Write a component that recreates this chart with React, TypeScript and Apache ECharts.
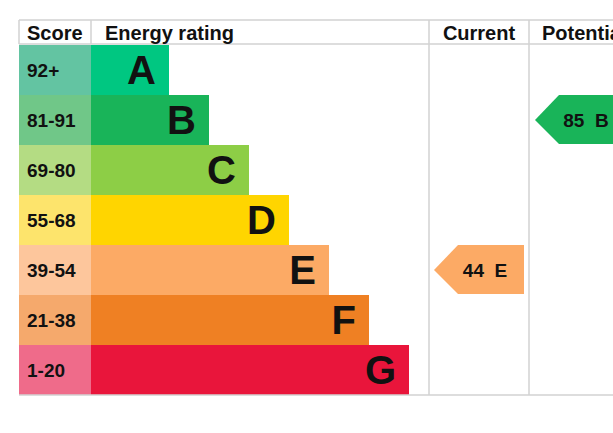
import { useEffect, useRef } from "react";
import * as echarts from "echarts";

const ratings = ["A", "B", "C", "D", "E", "F", "G"];
const scoreBands = ["92+", "81-91", "69-80", "55-68", "39-54", "21-38", "1-20"];
const barLengths = [78, 118, 158, 198, 238, 278, 318];
const scoreCellWidth = [72, 72, 72, 72, 72, 72, 72];
const bandColors = ["#00c781", "#19b459", "#8dce46", "#ffd500", "#fcaa65", "#ef8023", "#e9153b"];
const cellColors = ["#63c4a2", "#70c788", "#b4dc83", "#fde46c", "#fdc69c", "#f5a96c", "#ef6b8a"];
const headers = ["Score", "Energy rating", "Current", "Potential"];

const currentScore = 44;
const currentRating = "E";
const potentialScore = 85;
const potentialRating = "B";

// layout (px)
const GRID_LEFT = 19;
const GRID_TOP = 45;
const GRID_H = 350;
const COL_CURRENT = 429;
const COL_POTENTIAL = 529;
const LINE = "#d2d2d2";
const FONT = "Liberation Sans, Arial, sans-serif";

export default function App() {
  const ref = useRef<HTMLDivElement | null>(null);

  useEffect(() => {
    if (!ref.current) return;
    const chart = echarts.init(ref.current, null, { renderer: "svg" });
    const W = 613;
    const bottom = GRID_TOP + GRID_H;

    const arrows = [
      [COL_CURRENT + 5 - GRID_LEFT, ratings.indexOf(currentRating), currentScore],
      [COL_POTENTIAL + 6 - GRID_LEFT, ratings.indexOf(potentialRating), potentialScore],
    ];

    const hLine = (y: number) => ({
      type: "line",
      shape: { x1: GRID_LEFT, y1: y, x2: W, y2: y },
      style: { stroke: LINE, lineWidth: 1.5 },
      z: 10,
    });
    const vLine = (x: number, y2: number) => ({
      type: "line",
      shape: { x1: x, y1: 20, x2: x, y2 },
      style: { stroke: LINE, lineWidth: 1.5 },
      z: 10,
    });
    const headText = (text: string, x: number, align: string) => ({
      type: "text",
      x,
      y: 33,
      style: {
        text,
        fill: "#111",
        font: `bold 20px ${FONT}`,
        align,
        verticalAlign: "middle",
      },
      z: 10,
    });

    chart.setOption({
      animation: false,
      backgroundColor: "#fff",
      grid: { left: GRID_LEFT, top: GRID_TOP, height: GRID_H, right: 0 },
      xAxis: { type: "value", min: 0, max: W - GRID_LEFT, show: false },
      yAxis: { type: "category", data: ratings, inverse: true, show: false },
      graphic: [
        hLine(20),
        hLine(44),
        hLine(bottom),
        vLine(GRID_LEFT, 44),
        vLine(91, 44),
        vLine(COL_CURRENT, bottom),
        vLine(COL_POTENTIAL, bottom),
        headText(headers[0], 27, "left"),
        headText(headers[1], 105, "left"),
        headText(headers[2], 479, "center"),
        headText(headers[3], 542, "left"),
      ],
      series: [
        {
          type: "bar",
          stack: "row",
          barCategoryGap: "0%",
          data: scoreCellWidth.map((v, i) => ({ value: v, itemStyle: { color: cellColors[i] } })),
          label: {
            show: true,
            position: "insideLeft",
            distance: 8,
            formatter: (p: any) => scoreBands[p.dataIndex],
            color: "#111",
            fontSize: 19,
            fontWeight: "bold",
            fontFamily: FONT,
          },
        },
        {
          type: "bar",
          stack: "row",
          barCategoryGap: "0%",
          data: barLengths.map((v, i) => ({ value: v, itemStyle: { color: bandColors[i] } })),
          label: {
            show: true,
            position: "insideRight",
            distance: 13,
            formatter: (p: any) => ratings[p.dataIndex],
            color: "#111",
            fontSize: 40,
            fontWeight: "bold",
            fontFamily: FONT,
          },
        },
        {
          type: "custom",
          coordinateSystem: "cartesian2d",
          data: arrows,
          renderItem: (_params: any, api: any) => {
            const idx = api.value(1);
            const p = api.coord([api.value(0), idx]);
            const h = api.size([0, 1])[1];
            const x = p[0];
            const y = p[1];
            const top = y - h / 2;
            const bot = y + h / 2 - 1;
            return {
              type: "group",
              children: [
                {
                  type: "polygon",
                  shape: {
                    points: [
                      [x, y],
                      [x + 24, top],
                      [x + 90, top],
                      [x + 90, bot],
                      [x + 24, bot],
                    ],
                  },
                  style: { fill: bandColors[idx] },
                },
                {
                  type: "text",
                  x: x + 51,
                  y,
                  style: {
                    text: `${api.value(2)}  ${ratings[idx]}`,
                    fill: "#111",
                    font: `bold 19px ${FONT}`,
                    align: "center",
                    verticalAlign: "middle",
                  },
                },
              ],
            };
          },
        },
      ],
    });

    return () => chart.dispose();
  }, []);

  return <div ref={ref} style={{ position: "fixed", left: 0, top: 0, width: 613, height: 433 }} />;
}
